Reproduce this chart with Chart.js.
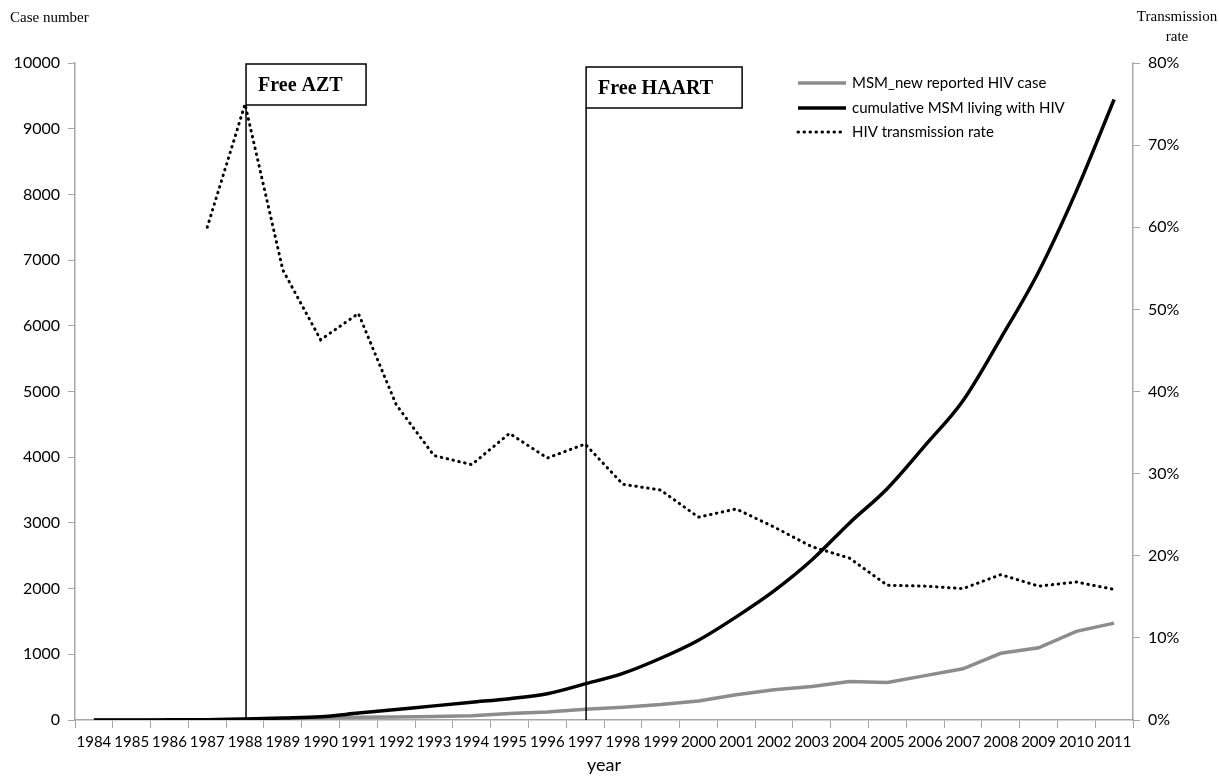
<!DOCTYPE html>
<html>
<head>
<meta charset="utf-8">
<script src="https://cdn.jsdelivr.net/npm/chart.js@4.4.1/dist/chart.umd.min.js"></script>
<style>
  body { margin: 0; background: #fff; }
  #wrap { width: 1219px; height: 776px; position: relative; }
</style>
</head>
<body>
<div id="wrap"><canvas id="chart"></canvas></div>
<script>
const years = ['1984','1985','1986','1987','1988','1989','1990','1991','1992','1993','1994','1995','1996','1997',
  '1998','1999','2000','2001','2002','2003','2004','2005','2006','2007','2008','2009','2010','2011'];
const newCases = [0, 0, 2, 3, 10, 15, 30, 40, 45, 55, 65, 100, 120, 165,
  195, 235, 290, 385, 460, 510, 585, 570, 675, 780, 1015, 1100, 1350, 1475];
const cumulative = [0, 0, 2, 5, 15, 30, 50, 105, 160, 215, 270, 325, 400, 550,
  710, 940, 1215, 1570, 1965, 2435, 3000, 3525, 4180, 4860, 5810, 6820, 8050, 9445];
const transRate = [null, null, null, 60, 75, 54.8, 46.3, 49.5, 38.4, 32.2, 31.1, 34.9, 31.9, 33.6,
  28.7, 28.0, 24.7, 25.7, 23.5, 21.1, 19.7, 16.4, 16.3, 16.0, 17.7, 16.3, 16.8, 15.9];
const events = [
  { year: '1988', text: 'Free AZT', width: 120, top: 1 },
  { year: '1997', text: 'Free HAART', width: 156, top: 4 }
];

const axisGrey = '#a6a6a6';
const serif = '"Liberation Serif", "Times New Roman", serif';
Chart.defaults.font.family = 'Lato, "Noto Sans", sans-serif';
Chart.defaults.color = '#000';

// vertical event lines with boxed labels
const eventPlugin = {
  id: 'events',
  afterDatasetsDraw(chart) {
    const { ctx, chartArea, scales } = chart;
    ctx.save();
    events.forEach(ev => {
      const x = scales.x.getPixelForValue(years.indexOf(ev.year)) + 1;
      const top = chartArea.top + ev.top;
      const h = 41;
      ctx.strokeStyle = '#000';
      ctx.lineWidth = 1.5;
      ctx.fillStyle = '#fff';
      ctx.fillRect(x, top, ev.width, h);
      ctx.strokeRect(x, top, ev.width, h);
      ctx.beginPath();
      ctx.moveTo(x, top + h);
      ctx.lineTo(x, chartArea.bottom);
      ctx.stroke();
      ctx.fillStyle = '#000';
      ctx.font = 'bold 20px ' + serif;
      ctx.textBaseline = 'middle';
      ctx.fillText(ev.text, x + 12, top + h / 2 + 1);
    });
    ctx.restore();
  }
};

// legend in upper right of plot, plus the axis titles at the top corners
const legendPlugin = {
  id: 'cornerLegend',
  afterDraw(chart) {
    const { ctx } = chart;
    const rows = [83, 108, 132];
    ctx.save();
    chart.data.datasets.forEach((ds, i) => {
      const y = rows[i];
      ctx.beginPath();
      ctx.strokeStyle = ds.borderColor;
      ctx.lineWidth = ds.borderWidth;
      ctx.lineCap = ds.borderCapStyle || 'butt';
      ctx.setLineDash(ds.borderDash || []);
      ctx.moveTo(798, y);
      ctx.lineTo(846, y);
      ctx.stroke();
      ctx.setLineDash([]);
      ctx.fillStyle = '#000';
      ctx.font = '15px Lato, "Noto Sans", sans-serif';
      ctx.textBaseline = 'middle';
      ctx.fillText(ds.label, 852, y);
    });
    ctx.font = '15px ' + serif;
    ctx.textBaseline = 'middle';
    ctx.textAlign = 'left';
    ctx.fillText('Case number', 10, 18);
    ctx.textAlign = 'center';
    ctx.fillText('Transmission', 1177, 17);
    ctx.fillText('rate', 1177, 37);
    ctx.restore();
  }
};

new Chart(document.getElementById('chart'), {
  type: 'line',
  data: {
    labels: years,
    datasets: [
      {
        label: 'MSM_new reported HIV case',
        data: newCases,
        yAxisID: 'y',
        borderColor: '#8c8c8c',
        borderWidth: 3.5,
        pointRadius: 0,
        tension: 0,
        order: 2
      },
      {
        label: 'cumulative MSM living with HIV',
        data: cumulative,
        yAxisID: 'y',
        borderColor: '#000',
        borderWidth: 3.5,
        pointRadius: 0,
        cubicInterpolationMode: 'monotone',
        order: 1
      },
      {
        label: 'HIV transmission rate',
        data: transRate,
        yAxisID: 'y1',
        borderColor: '#000',
        borderWidth: 3,
        borderDash: [0.5, 5.5],
        borderCapStyle: 'round',
        pointRadius: 0,
        tension: 0,
        order: 0
      }
    ]
  },
  options: {
    responsive: true,
    maintainAspectRatio: false,
    animation: false,
    layout: { padding: { top: 63, left: 0, right: 0, bottom: 0 } },
    plugins: {
      legend: { display: false },
      tooltip: { enabled: false }
    },
    scales: {
      x: {
        offset: true,
        grid: { display: true, offset: true, drawOnChartArea: false, color: axisGrey, tickLength: 8 },
        border: { color: axisGrey, width: 1.5 },
        ticks: { autoSkip: false, maxRotation: 0, minRotation: 0, padding: 5, font: { size: 15 } },
        title: { display: true, text: 'year', font: { size: 18 }, padding: { top: 0, bottom: 0 } },
        afterFit(scale) { scale.height = 56; }
      },
      y: {
        position: 'left',
        min: 0,
        max: 10000,
        ticks: { stepSize: 1000, padding: 8, font: { size: 16 }, callback: v => String(v) },
        grid: { drawOnChartArea: false, color: axisGrey, tickLength: 7 },
        border: { color: axisGrey, width: 1.5 },
        afterFit(scale) { scale.width = 75; }
      },
      y1: {
        position: 'right',
        min: 0,
        max: 80,
        ticks: { stepSize: 10, padding: 8, font: { size: 16 }, callback: v => v + '%' },
        grid: { drawOnChartArea: false, color: axisGrey, tickLength: 7 },
        border: { color: axisGrey, width: 1.5 },
        afterFit(scale) { scale.width = 86; }
      }
    }
  },
  plugins: [eventPlugin, legendPlugin]
});
</script>
</body>
</html>
